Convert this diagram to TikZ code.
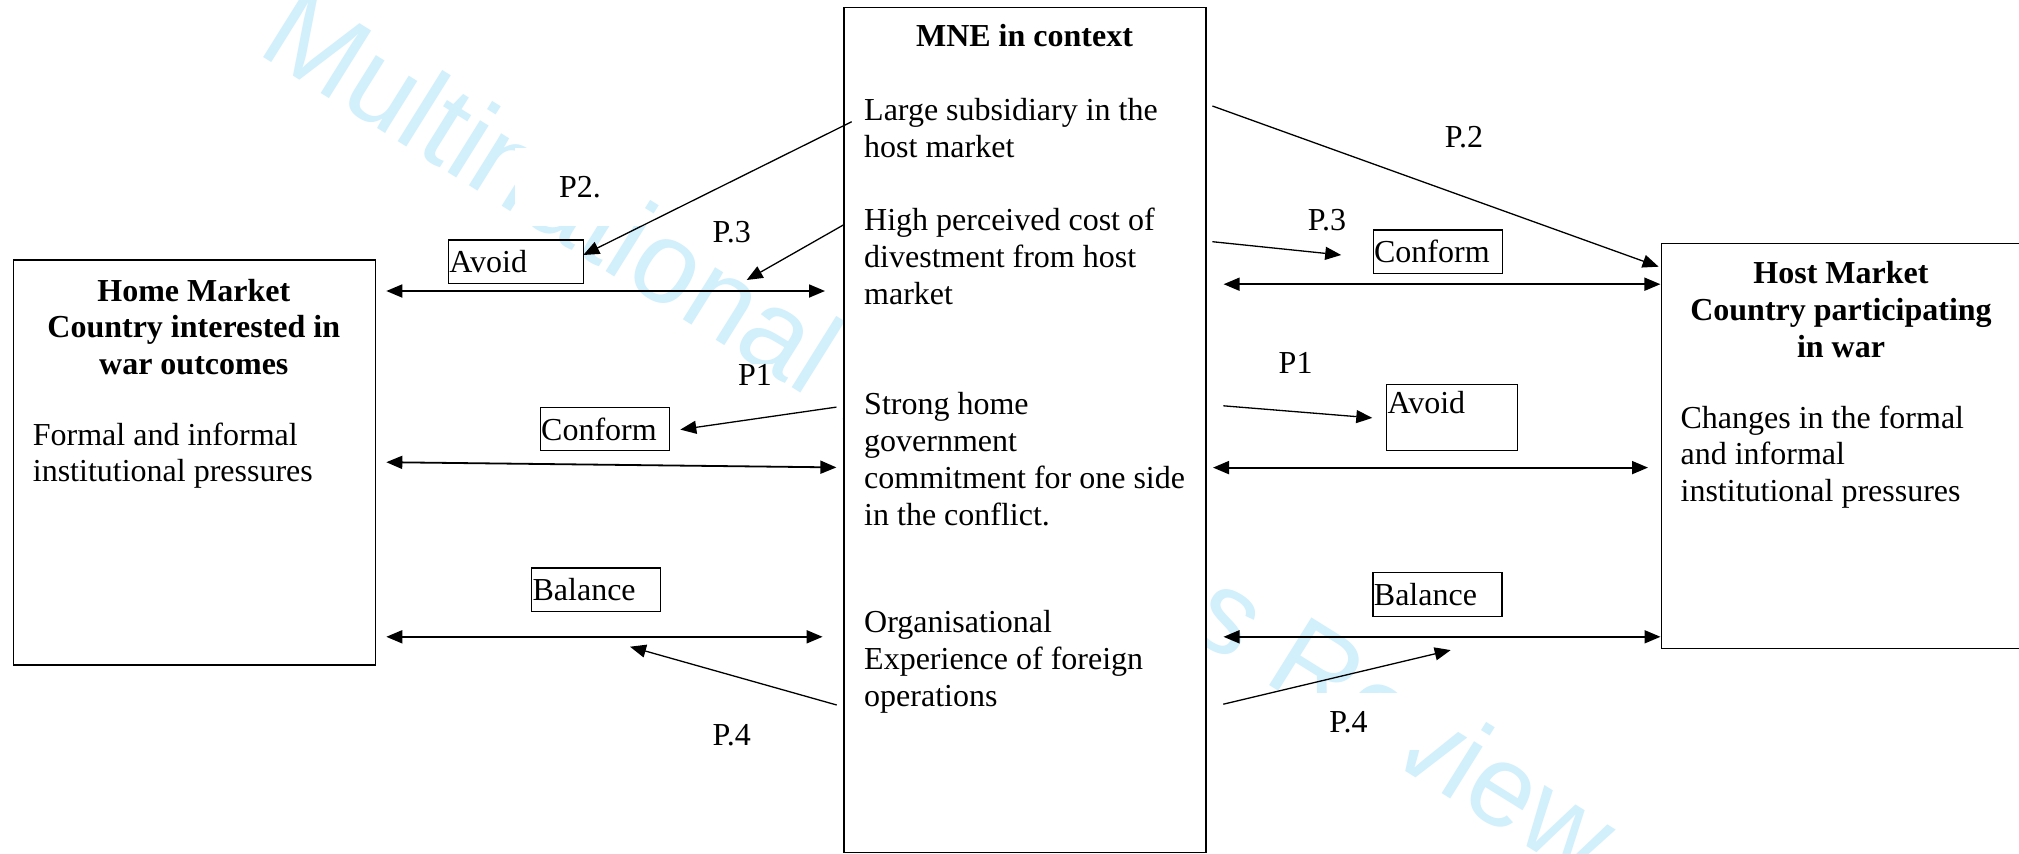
\documentclass[tikz,border=0pt]{standalone}
\usepackage{fontspec}
\setmainfont{Liberation Serif}
\newfontfamily\wmfont{Liberation Sans}
\usepackage{xcolor}
\usetikzlibrary{positioning,calc,arrows.meta}
\definecolor{wmblue}{RGB}{210,239,252}
\newcommand\txt{\fontsize{32}{36.8}\selectfont}

\begin{document}
\begin{tikzpicture}[x=1pt, y=-1pt,
    every node/.style={font=\txt, inner sep=0pt},
    panel/.style={draw, line width=1.2pt, fill=white, anchor=north west},
    title/.style={font=\txt\bfseries, align=center},
    body/.style={align=left, anchor=west},
    tag/.style={draw, line width=1.2pt, anchor=north west, inner xsep=1pt, align=left},
    prop/.style={fill=white},
    twoway/.style={{Triangle[length=16pt,width=13pt]}-{Triangle[length=16pt,width=13pt]}, line width=1.8pt},
    oneway/.style={-{Triangle[length=16pt,width=13pt]}, line width=1.3pt}]
    \useasboundingbox (0,0) rectangle (2019,854);

    % watermark
    \node[font=\wmfont\fontsize{116}{116}\selectfont, text=wmblue, rotate=-32, anchor=base west] (wmark) at (255,52) {Multinational Business Review};

    % the three boxes
    \node[panel, minimum width=362.4pt, minimum height=405pt] (home) at (12.6,259.4) {};
    \node[panel, minimum width=362pt, minimum height=845.5pt] (mne) at (843.3,6.5) {};
    \node[panel, minimum width=380pt, minimum height=405pt] (host) at (1660.5,243) {};

    \node[title] (homeTitle) at (193.8,327) {Home Market\\Country interested in\\war outcomes};
    \node[body] (homeText) at (32.7,455.7) {Formal and informal\\institutional pressures};

    \node[title] (mneTitle) at (1024.5,35.4) {MNE in context};
    \node[body] (size) at (864,128.3) {Large subsidiary in the\\host market};
    \node[body] (cost) at (864,256.5) {High perceived cost of\\divestment from host\\market};
    \node[body] (gov) at (864,459) {Strong home\\government\\commitment for one side\\in the conflict.};
    \node[body] (exper) at (864,661.8) {Organisational\\Experience of foreign\\operations};

    \node[title] (hostTitle) at (1841,309.8) {Host Market\\Country participating\\in war};
    \node[body] (hostText) at (1680.4,457) {Changes in the formal\\and informal\\institutional pressures};

    % responses
    \node[tag, text width=133pt, minimum height=43.6pt] (avoidL) at (447.8,239.4) {Avoid};
    \node[tag, text width=127.2pt, minimum height=43.5pt] (conformL) at (539.6,406.7) {Conform};
    \node[tag, text width=127.2pt, minimum height=43.8pt] (balanceL) at (531,567.4) {Balance};
    \node[tag, text width=127pt, minimum height=43.4pt] (conformR) at (1372.5,229.3) {Conform};
    \node[tag, text width=129pt, inner ysep=0pt, text height=29pt, text depth=37.7pt] (avoidR) at (1385.9,383.5) {Avoid};
    \node[tag, text width=127pt, minimum height=43.6pt] (balanceR) at (1372.3,572) {Balance};

    % propositions
    \node[prop, inner xsep=44pt, inner ysep=28pt] (p2L) at (580,186.7) {P2.};
    \node[prop, inner xsep=11pt, inner ysep=20pt] (p3L) at (731.7,231.7) {P.3};
    \node[prop] (p1L) at (754.9,374.5) {P1};
    \node[prop] (p4L) at (731.7,735) {P.4};
    \node[prop] (p2R) at (1463.9,136.9) {P.2};
    \node[prop] (p3R) at (1327,220) {P.3};
    \node[prop] (p1R) at (1295.6,363.2) {P1};
    \node[prop, inner xsep=64pt, inner ysep=18pt] (p4R) at (1348.5,721.7) {P.4};

    % arrow ends
    \coordinate (hA) at (386.3,291);    \coordinate (mA) at (825,291);
    \coordinate (hB) at (386.3,462.2);  \coordinate (mB) at (836.4,467.4);
    \coordinate (hC) at (386.3,636.8);  \coordinate (mC) at (822.6,636.8);
    \coordinate (nA) at (1223.6,284.2); \coordinate (sA) at (1660.4,284.2);
    \coordinate (nB) at (1213,467.6);   \coordinate (sB) at (1648,467.6);
    \coordinate (nC) at (1223.5,636.8); \coordinate (sC) at (1660.5,636.8);

    \draw[twoway] (hA) -- (mA);
    \draw[twoway] (hB) -- (mB);
    \draw[twoway] (hC) -- (mC);
    \draw[twoway] (nA) -- (sA);
    \draw[twoway] (nB) -- (sB);
    \draw[twoway] (nC) -- (sC);

    % left side
    \coordinate (t2L) at (851.7,121.7); \coordinate (e2L) at (583.3,255);
    \coordinate (t3L) at (843.3,225);   \coordinate (e3L) at (746.7,280);
    \coordinate (t1L) at (836.4,407.1); \coordinate (e1L) at (680.3,429.6);
    \coordinate (t4L) at (836.7,705);   \coordinate (e4L) at (630,646.7);
    \draw[oneway] (t2L) -- (e2L);
    \draw[oneway] (t3L) -- (e3L);
    \draw[oneway] (t1L) -- (e1L);
    \draw[oneway] (t4L) -- (e4L);

    % right side
    \coordinate (t2R) at (1212.4,106);   \coordinate (e2R) at (1658.6,266.7);
    \coordinate (t3R) at (1212.4,241.7); \coordinate (e3R) at (1341.2,255);
    \coordinate (t1R) at (1223.3,405.8); \coordinate (e1R) at (1372.3,417.9);
    \coordinate (t4R) at (1223.3,704.2); \coordinate (e4R) at (1450.7,650.1);
    \draw[oneway] (t2R) -- (e2R);
    \draw[oneway] (t3R) -- (e3R);
    \draw[oneway] (t1R) -- (e1R);
    \draw[oneway] (t4R) -- (e4R);
\end{tikzpicture}
\end{document}
